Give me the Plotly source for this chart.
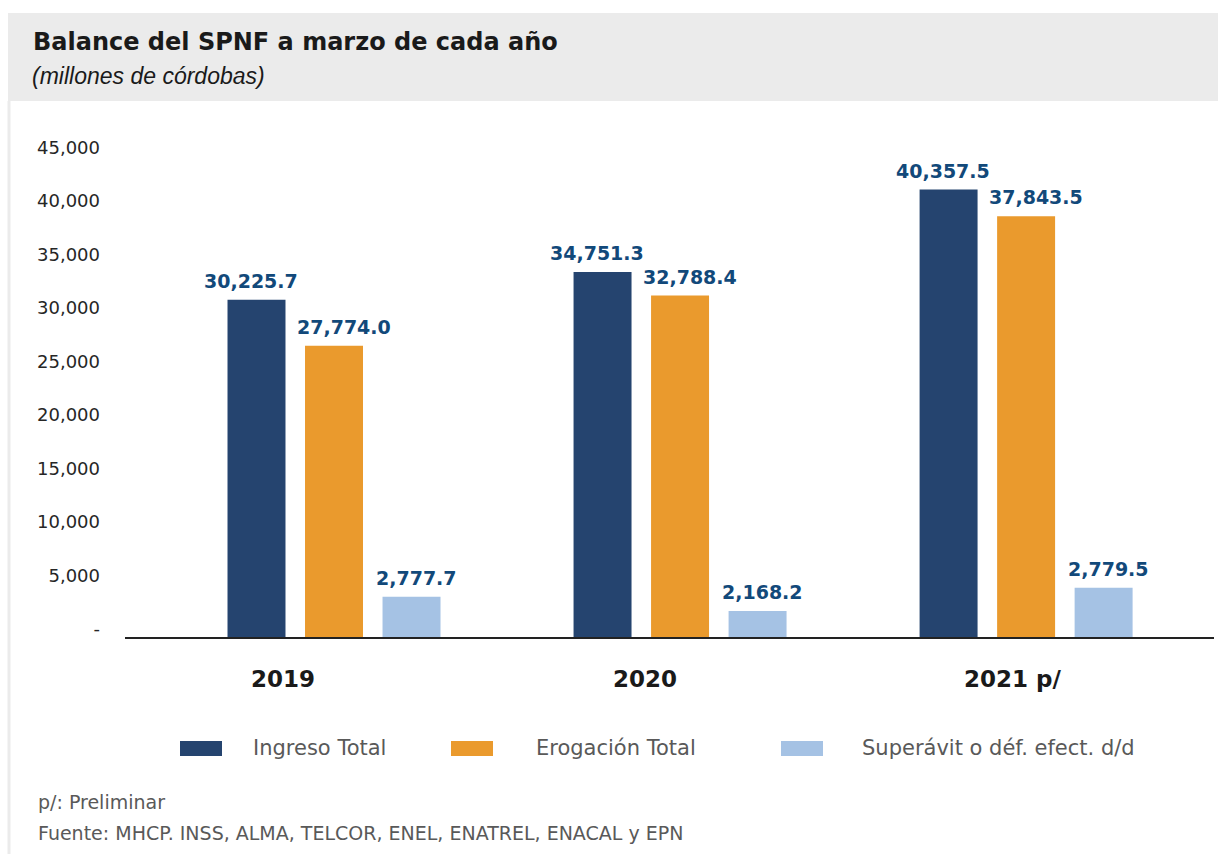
import plotly.graph_objects as go

# ---------------- data ----------------
categories = ["2019", "2020", "2021 p/"]
series_names = ["Ingreso Total", "Erogación Total", "Superávit o déf. efect. d/d"]
ingreso = [31500, 34100, 41800]
erogacion = [27200, 31900, 39300]
superavit = [3770, 2430, 4610]
ingreso_labels = ["30,225.7", "34,751.3", "40,357.5"]
erogacion_labels = ["27,774.0", "32,788.4", "37,843.5"]
superavit_labels = ["2,777.7", "2,168.2", "2,779.5"]
y_tickvals = [0, 5000, 10000, 15000, 20000, 25000, 30000, 35000, 40000, 45000]
y_ticktext = ["-", "5,000", "10,000", "15,000", "20,000", "25,000", "30,000", "35,000", "40,000", "45,000"]
title_text = "Balance del SPNF a marzo de cada año"
subtitle_text = "(millones de córdobas)"
notes = ["p/: Preliminar", "Fuente: MHCP. INSS, ALMA, TELCOR, ENEL, ENATREL, ENACAL y EPN"]

# ---------------- style ----------------
colors = ["#25446F", "#EA9A2D", "#A5C2E4"]
label_color = "#12497A"
W, H = 1218, 854
L, R, T, B = 125, 4, 150, 217
PW, PH = W - L - R, H - T - B
BARGAP, BARGROUPGAP = 0.328, 0.252
XRANGE = [-0.604, 2.543]
YRANGE = [0, 45500]


def px(x):
    return (x - L) / PW


def py(y):
    return (H - B - y) / PH


x_idx = list(range(len(categories)))
values = [ingreso, erogacion, superavit]
labels = [ingreso_labels, erogacion_labels, superavit_labels]
label_xshift = [-6, 10, 5]

fig = go.Figure()
for k, (name, vals) in enumerate(zip(series_names, values)):
    fig.add_trace(go.Bar(x=x_idx, y=vals, name=name, marker=dict(color=colors[k], line=dict(width=0)),
                         showlegend=False, hoverinfo="skip"))

annotations = []
slot = (1 - BARGAP) / 3
for k in range(3):
    for i, (v, t) in enumerate(zip(values[k], labels[k])):
        annotations.append(dict(x=i + (k - 1) * slot, y=v, xref="x", yref="y", text=t, showarrow=False,
                                xanchor="center", yanchor="middle", yshift=19, xshift=label_xshift[k],
                                font=dict(family="DejaVu Sans", size=19, color=label_color, weight="bold")))

cat_xshift = [-51, -35, -14]
for i, c in enumerate(categories):
    annotations.append(dict(x=i, y=py(679), xref="x", yref="paper", text=c, showarrow=False,
                            xanchor="center", yanchor="middle", xshift=cat_xshift[i],
                            font=dict(family="DejaVu Sans", size=23, color="#1a1a1a", weight="bold")))

# title / subtitle
annotations.append(dict(x=px(31), y=py(42), xref="paper", yref="paper", text=title_text, showarrow=False,
                        xanchor="left", yanchor="middle",
                        font=dict(family="DejaVu Sans", size=24, color="#1a1a1a", weight="bold")))
annotations.append(dict(x=px(30), y=py(76), xref="paper", yref="paper", text=subtitle_text, showarrow=False,
                        xanchor="left", yanchor="middle",
                        font=dict(family="Liberation Sans", size=23, color="#1a1a1a", style="italic")))

# footnotes
for j, (t, yy) in enumerate(zip(notes, [802, 833])):
    annotations.append(dict(x=px(36), y=py(yy), xref="paper", yref="paper", text=t, showarrow=False,
                            xanchor="left", yanchor="middle",
                            font=dict(family="DejaVu Sans", size=19, color="#595959")))

# custom legend
shapes = []
leg_rect_x = [180, 451, 781]
leg_text_x = [251, 534, 860]
for k in range(3):
    shapes.append(dict(type="rect", xref="paper", yref="paper", x0=px(leg_rect_x[k]), x1=px(leg_rect_x[k] + 42),
                       y0=py(756), y1=py(741), fillcolor=colors[k], line=dict(width=0), layer="above"))
    annotations.append(dict(x=px(leg_text_x[k]), y=py(748), xref="paper", yref="paper", text=series_names[k],
                            showarrow=False, xanchor="left", yanchor="middle",
                            font=dict(family="DejaVu Sans", size=21, color="#595959")))

# header band and left frame line
shapes.insert(0, dict(type="rect", xref="paper", yref="paper", x0=px(8), x1=px(1218), y0=py(101), y1=py(13),
                      fillcolor="#EBEBEB", line=dict(width=0), layer="below"))
shapes.insert(1, dict(type="line", xref="paper", yref="paper", x0=px(9), x1=px(9), y0=py(101), y1=py(854),
                      line=dict(color="#EBEBEB", width=3), layer="below"))

fig.update_layout(
    width=W, height=H,
    margin=dict(l=L, r=R, t=T, b=B, pad=0),
    paper_bgcolor="white", plot_bgcolor="white",
    barmode="group", bargap=BARGAP, bargroupgap=BARGROUPGAP,
    annotations=annotations, shapes=shapes,
    showlegend=False,
    xaxis=dict(range=XRANGE, showticklabels=False, showgrid=False, zeroline=False, ticks="",
               showline=True, linecolor="#222222", linewidth=2),
    yaxis=dict(range=YRANGE, tickvals=y_tickvals, ticktext=y_ticktext, showgrid=False, zeroline=False,
               showline=False, ticks="", ticklabelstandoff=24, ticklabelshift=-8,
               tickfont=dict(family="DejaVu Sans", size=18, color="#262626")),
)

fig.write_html("out.html")
